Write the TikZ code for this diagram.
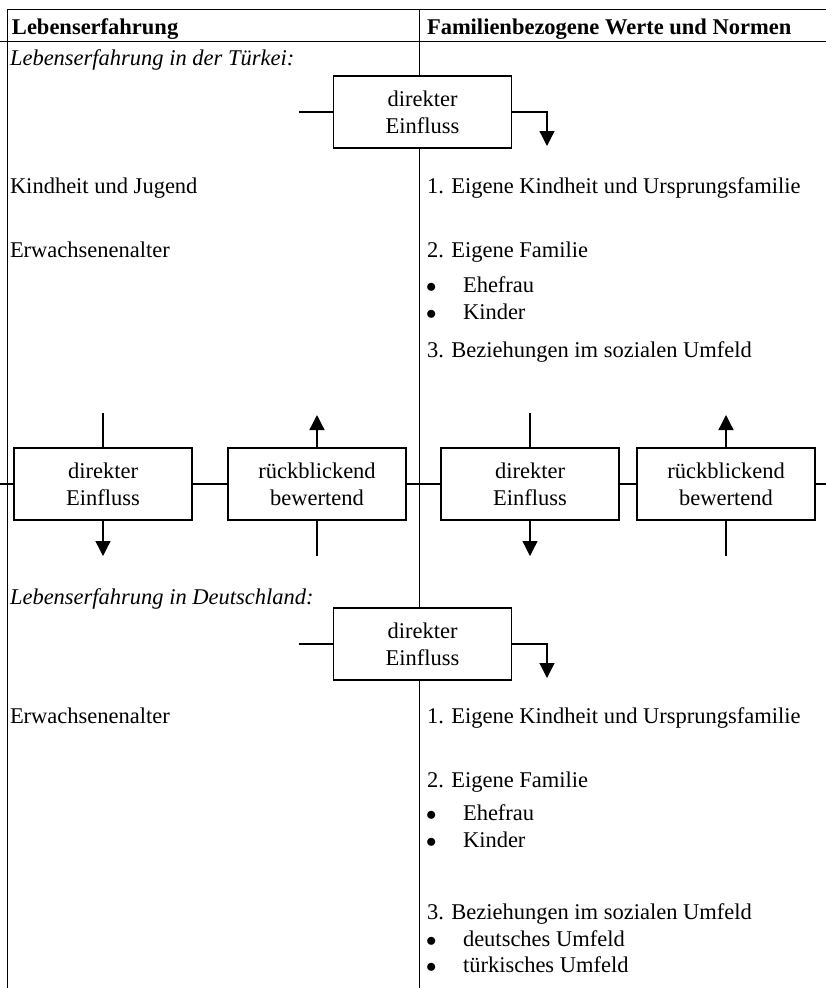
\documentclass[tikz,border=0pt]{standalone}
\usepackage{fontspec}
\setmainfont{Liberation Serif}
\usetikzlibrary{arrows.meta,positioning}

\begin{document}
\begin{tikzpicture}[x=1pt,y=-1pt,
  every node/.style={inner sep=0pt,outer sep=0pt},
  txt/.style={anchor=base west,font=\fontsize{22.5}{27}\selectfont},
  kopf/.style={txt,font=\fontsize{22.5}{27}\selectfont\bfseries},
  zwischen/.style={txt,font=\fontsize{22.5}{27}\selectfont\itshape},
  punkt/.style={txt,font=\fontsize{22.5}{27}\selectfont},
  kasten/.style={draw,line width=1.3pt,fill=white,align=center,minimum width=178pt,minimum height=72pt,font=\fontsize{22.5}{27}\selectfont},
  pfeil/.style={line width=1.3pt,-{Triangle[width=15pt,length=15pt]}},
  strich/.style={line width=1.3pt}]
  \useasboundingbox (0,0) rectangle (826,988);

  \draw[line width=1pt] (7,9.5) -- (826,9.5);
  \draw[line width=1pt] (0,41) -- (826,41);
  \draw[line width=1pt] (7,9.5) -- (7,988);
  \draw[line width=1pt] (419,9.5) -- (419,988);

  \node[kopf] (kopfL) at (12,34) {Lebenserfahrung};
  \node[kopf] (kopfR) at (427,34) {Familienbezogene Werte und Normen};

  % Tuerkei
  \node[zwischen] (tuerkei) at (10,65) {Lebenserfahrung in der Türkei:};
  \node[kasten] (einflussT) at (422.5,112) {direkter\\Einfluss};
  \coordinate[left=35pt of einflussT] (einflussTa);
  \coordinate (einflussTb) at (547,146);
  \draw[strich] (einflussTa) -- (einflussT);
  \draw[pfeil] (einflussT.east) -| (einflussTb);

  \node[txt] (kindheitT) at (10,193) {Kindheit und Jugend};
  \node[txt] (erwachsenT) at (10,257) {Erwachsenenalter};
  \node[txt] (eigeneKT) at (427,193) {1. Eigene Kindheit und Ursprungsfamilie};
  \node[txt] (familieT) at (427,257) {2. Eigene Familie};
  \node[punkt] (ehefrauT) at (426,292) {\makebox[37pt][l]{$\bullet$}Ehefrau};
  \node[punkt] (kinderT) at (426,319) {\makebox[37pt][l]{$\bullet$}Kinder};
  \node[txt] (umfeldT) at (427,357) {3. Beziehungen im sozialen Umfeld};

  % Uebergang
  \node[kasten] (einfluss1) at (103,484) {direkter\\Einfluss};
  \node[kasten,right=36pt of einfluss1] (rueck1) {rückblickend\\bewertend};
  \node[kasten,right=35pt of rueck1] (einfluss2) {direkter\\Einfluss};
  \node[kasten,right=18pt of einfluss2] (rueck2) {rückblickend\\bewertend};
  \coordinate (linksA) at (0,484);
  \coordinate (rechtsA) at (826,484);
  \draw[strich] (linksA) -- (einfluss1) (einfluss1) -- (rueck1)
    (rueck1) -- (einfluss2) (einfluss2) -- (rueck2) (rueck2) -- (rechtsA);
  \foreach \k in {einfluss1,einfluss2}{
    \coordinate[above=35pt of \k] (\k a);
    \coordinate[below=36pt of \k] (\k b);
    \draw[strich] (\k a) -- (\k);
    \draw[pfeil] (\k) -- (\k b);
  }
  \foreach \k in {rueck1,rueck2}{
    \coordinate[above=33pt of \k] (\k a);
    \coordinate[below=36pt of \k] (\k b);
    \draw[pfeil] (\k) -- (\k a);
    \draw[strich] (\k b) -- (\k);
  }

  % Deutschland
  \node[zwischen] (deutschland) at (10,604) {Lebenserfahrung in Deutschland:};
  \node[kasten] (einflussD) at (422.5,644) {direkter\\Einfluss};
  \coordinate[left=35pt of einflussD] (einflussDa);
  \coordinate (einflussDb) at (547,678);
  \draw[strich] (einflussDa) -- (einflussD);
  \draw[pfeil] (einflussD.east) -| (einflussDb);

  \node[txt] (erwachsenD) at (10,723) {Erwachsenenalter};
  \node[txt] (eigeneKD) at (427,723) {1. Eigene Kindheit und Ursprungsfamilie};
  \node[txt] (familieD) at (427,787) {2. Eigene Familie};
  \node[punkt] (ehefrauD) at (426,820) {\makebox[37pt][l]{$\bullet$}Ehefrau};
  \node[punkt] (kinderD) at (426,847) {\makebox[37pt][l]{$\bullet$}Kinder};
  \node[txt] (umfeldD) at (427,919) {3. Beziehungen im sozialen Umfeld};
  \node[punkt] (deutschD) at (426,946) {\makebox[37pt][l]{$\bullet$}deutsches Umfeld};
  \node[punkt] (tuerkD) at (426,972) {\makebox[37pt][l]{$\bullet$}türkisches Umfeld};
\end{tikzpicture}
\end{document}
